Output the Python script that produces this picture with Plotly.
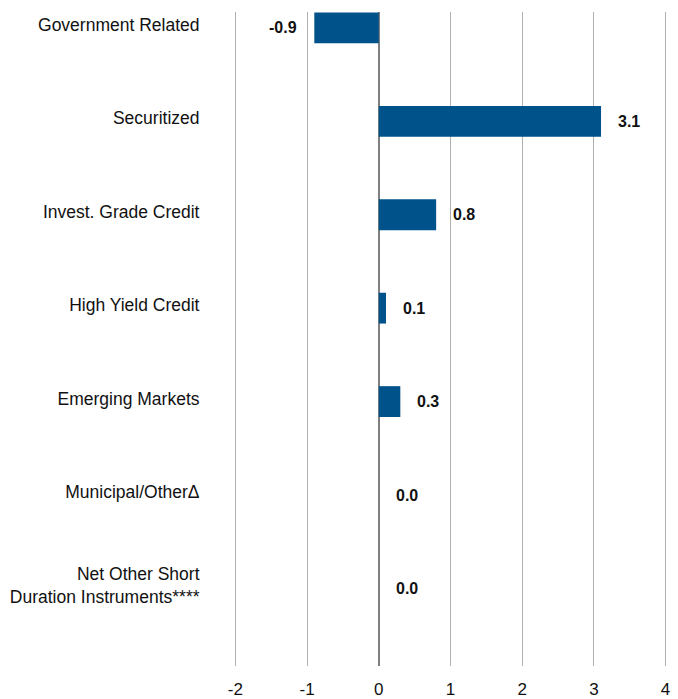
import plotly.graph_objects as go

categories = [
    "Government Related",
    "Securitized",
    "Invest. Grade Credit",
    "High Yield Credit",
    "Emerging Markets",
    "Municipal/Other\u0394",
    "Net Other Short<br>Duration Instruments****",
]
values = [-0.9, 3.1, 0.8, 0.1, 0.3, 0.0, 0.0]
value_labels = ["-0.9", "3.1", "0.8", "0.1", "0.3", "0.0", "0.0"]
x_ticks = [-2, -1, 0, 1, 2, 3, 4]

BAR = "#00538a"
FONT = "Liberation Sans, Arial, sans-serif"

fig = go.Figure()
fig.add_trace(go.Bar(
    x=values,
    y=categories,
    orientation="h",
    width=0.33,
    offset=-0.133,
    marker=dict(color=BAR, line=dict(width=0)),
    hoverinfo="skip",
))

annotations = []
for c, v, t in zip(categories, values, value_labels):
    annotations.append(dict(
        x=v, y=c, xref="x", yref="y", text=f"<b>{t}</b>", showarrow=False,
        xanchor="right" if v < 0 else "left",
        xshift=-15 if v < 0 else 15,
        yshift=-3,
        font=dict(family=FONT, size=16, color="#111111"),
    ))

fig.update_layout(
    width=678, height=699,
    margin=dict(l=225.6, r=18.6, t=4, b=41),
    paper_bgcolor="white", plot_bgcolor="white",
    showlegend=False,
    annotations=annotations,
    font=dict(family=FONT, size=17, color="#111111"),
    xaxis=dict(
        range=[-2.02, 4.02],
        tickvals=x_ticks,
        ticktext=[str(v) for v in x_ticks],
        showgrid=True, gridcolor="#b0b0b0", gridwidth=1,
        zeroline=True, zerolinecolor="#7f7f7f", zerolinewidth=2,
        showline=False, automargin=False,
        ticks="outside", ticklen=8, tickcolor="rgba(0,0,0,0)",
        tickfont=dict(family=FONT, size=17, color="#111111"),
    ),
    yaxis=dict(
        type="category",
        range=[6.862, -0.138],
        showgrid=False, zeroline=False, showline=False, automargin=False,
        ticks="outside", ticklen=30, tickcolor="rgba(0,0,0,0)",
        tickfont=dict(family=FONT, size=17.5, color="#111111"),
    ),
)

fig.write_html("out.html")
